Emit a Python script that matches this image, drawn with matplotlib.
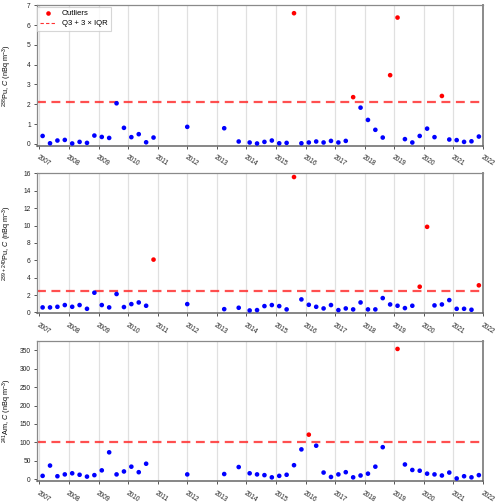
import matplotlib
matplotlib.use("Agg")
import matplotlib.pyplot as plt
import numpy as np
from matplotlib.lines import Line2D

plt.rcParams['font.family'] = ['Liberation Sans', 'DejaVu Sans']
plt.rcParams['mathtext.fontset'] = 'custom'
plt.rcParams['mathtext.rm'] = 'Liberation Sans'
plt.rcParams['mathtext.it'] = 'Liberation Sans:italic'

# sampling dates (decimal years)
dates = [2007.11, 2007.36, 2007.61, 2007.86, 2008.11, 2008.36, 2008.61, 2008.86,
         2009.11, 2009.36, 2009.61, 2009.86, 2010.11, 2010.36, 2010.61, 2010.86,
         2012.00, 2013.25, 2013.74,
         2014.11, 2014.36, 2014.61, 2014.86, 2015.11, 2015.36, 2015.61, 2015.86,
         2016.11, 2016.36, 2016.61, 2016.86, 2017.11, 2017.36, 2017.61, 2017.86,
         2018.11, 2018.36, 2018.61, 2018.86, 2019.11, 2019.36, 2019.61, 2019.86,
         2020.11, 2020.36, 2020.61, 2020.86, 2021.11, 2021.36, 2021.61, 2021.86]

pu238 = [0.40, 0.03, 0.17, 0.20, 0.02, 0.10, 0.05, 0.42, 0.35, 0.30, 2.05, 0.81, 0.34, 0.49, 0.08, 0.32,
         0.86, 0.79, 0.12,
         0.07, 0.02, 0.10, 0.17, 0.03, 0.05, 6.60, 0.03,
         0.07, 0.12, 0.07, 0.15, 0.07, 0.15, 2.36, 1.83,
         1.21, 0.71, 0.32, 3.47, 6.38, 0.24, 0.07, 0.40,
         0.77, 0.34, 2.42, 0.22, 0.19, 0.10, 0.13, 0.37]

pu239 = [0.58, 0.58, 0.65, 0.85, 0.65, 0.85, 0.42, 2.27, 0.85, 0.58, 2.12, 0.62, 0.96, 1.15, 0.77, 6.08,
         0.96, 0.38, 0.54,
         0.23, 0.27, 0.73, 0.85, 0.73, 0.35, 15.58, 1.50,
         0.88, 0.65, 0.46, 0.85, 0.27, 0.46, 0.35, 1.15,
         0.35, 0.35, 1.65, 0.92, 0.77, 0.50, 0.77, 2.96,
         9.85, 0.81, 0.92, 1.42, 0.42, 0.42, 0.31, 3.12]

am241 = [9, 37, 8, 13, 16, 12, 7, 11, 24, 73, 13, 21, 34, 19, 42, None,
         13, 14, 33,
         16, 13, 11, 5, 9, 12, 38, 81,
         121, 91, 18, 6, 13, 19, 5, 10,
         15, 34, 87, None, 354, 40, 25, 23,
         15, 13, 10, 18, 2, 8, 5, 11]

thresholds = [2.09, 2.46, 100]
ylabels = [r'$^{238}$Pu, $\mathit{C}$ (nBq m$^{-3}$)',
           r'$^{239+240}$Pu, $\mathit{C}$ (nBq m$^{-3}$)',
           r'$^{241}$Am, $\mathit{C}$ (nBq m$^{-3}$)']
ylims = [(-0.09, 7), (-0.12, 16), (-5, 375)]
yticks = [np.arange(0, 8, 1), np.arange(0, 17, 2), np.arange(0, 351, 50)]
years = list(range(2007, 2023))

fig = plt.figure(figsize=(5.0, 5.04), dpi=100)
boxes = [(0.074, 0.711, 0.892, 0.2785),
         (0.074, 0.378, 0.892, 0.278),
         (0.074, 0.0456, 0.892, 0.2774)]
series = [pu238, pu239, am241]
spine_c = '#8a8a8a'
for i, (vals, thr) in enumerate(zip(series, thresholds)):
    ax = fig.add_axes(boxes[i])
    x = np.array([d for d, v in zip(dates, vals) if v is not None])
    y = np.array([v for v in vals if v is not None], dtype=float)
    out = y > thr
    ax.axhline(thr, color='#ff3030', lw=1.6, ls=(0, (4, 2.5)), alpha=0.85, zorder=2)
    ax.scatter(x[~out], y[~out], s=11, color='#0000ff', edgecolors='none', zorder=3)
    ax.scatter(x[out], y[out], s=11, color='#ff0000', edgecolors='none', zorder=3)
    ax.set_xlim(2006.92, 2022.0)
    ax.set_ylim(*ylims[i])
    ax.set_yticks(yticks[i])
    ax.set_xticks(years)
    ax.set_xticklabels([str(y_) for y_ in years], rotation=-33, ha='left', va='top',
                       rotation_mode='anchor')
    ax.grid(axis='x', color='#e0e0e0', lw=0.9)
    ax.set_axisbelow(True)
    ax.tick_params(labelsize=4.8, length=2.5, width=0.7, color='#555555', pad=2,
                   labelcolor='#222222')
    ax.tick_params(axis='x', pad=3.5)
    for s in ax.spines.values():
        s.set_color(spine_c)
        s.set_linewidth(0.9)
    ax.spines['right'].set_linewidth(1.4)
    ax.spines['bottom'].set_linewidth(1.1)
    ax.spines['bottom'].set_color('#666666')
    ax.set_ylabel(ylabels[i], fontsize=5.2)
    ax.yaxis.set_label_coords(-0.052, 0.5)
    if i == 0:
        handles = [Line2D([], [], ls='none', marker='o', ms=3.3, color='#ff0000', mec='none',
                          label='Outliers'),
                   Line2D([], [], color='#ff3030', lw=0.8, ls=(0, (3, 2)),
                          label='Q3 + 3 × IQR')]
        leg = ax.legend(handles=handles, loc='upper left', bbox_to_anchor=(0.0, 0.99),
                        fontsize=5.6, frameon=True, fancybox=False, borderaxespad=0,
                        handlelength=2.0, handletextpad=0.8, borderpad=0.4,
                        labelspacing=0.35)
        leg.get_frame().set_edgecolor('#cccccc')
        leg.get_frame().set_linewidth(0.8)

fig.savefig('out.png', dpi=100)
